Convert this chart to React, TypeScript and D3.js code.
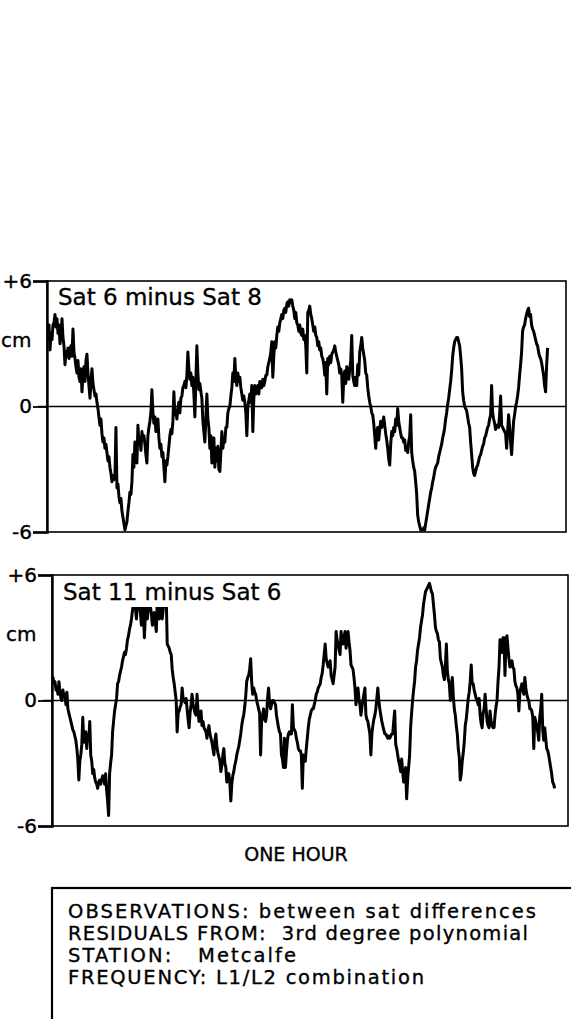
import React, { useEffect, useRef } from 'react';
import * as d3 from 'd3';

// one reading every 7.2 s, so 500 readings = one hour
const SAMPLE_SECONDS = 7.2;
const X_MAX_SECONDS = 3740;

const yTicks = [6, 0, -6];
const yTickLabels = ['+6', '0', '-6'];
const unitLabel = 'cm';
const unitLabelValue = 3.2;

// Sat 6 minus Sat 8, residuals in cm
const sat6minus8 = [
  4.0, 3.6, 3.9, 2.7, 3.5, 3.2, 3.9, 4.0, 4.4, 3.8,
  4.2, 3.5, 3.9, 3.0, 3.4, 4.2, 3.3, 2.9, 2.0, 2.6,
  2.4, 2.8, 2.3, 2.6, 2.9, 2.4, 3.7, 2.6, 2.3, 1.9,
  1.6, 2.2, 1.4, 1.2, 1.8, 0.7, 1.5, 1.9, 1.2, 2.2,
  2.5, 1.6, 1.0, 0.4, 1.2, 1.8, 1.1, 0.8, 0.5, 0.6,
  0.2, -0.1, -0.5, -0.9, -0.6, -1.3, -1.7, -1.5, -2.0, -1.8,
  -2.2, -2.6, -2.4, -2.9, -3.2, -3.6, -3.3, -3.5, -3.4, -1.0,
  -3.9, -3.7, -4.3, -4.6, -4.4, -5.0, -5.3, -5.6, -5.9, -5.7,
  -5.5, -5.0, -4.6, -4.1, -4.2, -3.6, -2.3, -2.9, -1.7, -2.2,
  -2.7, -0.9, -1.8, -1.5, -2.1, -1.2, -1.6, -1.4, -1.8, -2.3,
  -2.7, -1.4, -1.0, -0.7, -0.3, 0.8, -0.3, -0.8, -0.5, -1.2,
  -1.0, -0.6, -1.5, -2.0, -1.8, -2.4, -2.2, -2.9, -3.6, -2.6,
  -2.8, -2.4, -1.9, -1.4, -1.1, -1.3, -0.7, 0.7, -0.4, -0.2,
  -0.6, -0.1, 0.2, -0.3, 0.4, 0.5, 0.9, 1.0, 1.2, 0.9,
  1.5, 2.6, 1.8, 1.3, 1.6, 1.0, 1.4, 0.6, -0.5, 1.2,
  2.9, 1.6, 0.8, 1.1, 0.7, 0.4, -0.7, -1.2, -1.7, -0.5,
  0.6, -0.6, -1.0, -2.0, -1.4, -2.7, -2.3, -1.5, -2.9, -2.0,
  -2.6, -1.9, -3.0, -3.1, -2.2, -1.2, -2.0, -1.6, -1.7, -1.0,
  -1.0, -0.3, -0.1, 0.0, 0.5, 0.9, 1.6, 1.2, 2.3, 1.4,
  1.0, 1.6, 1.2, 1.4, 0.9, 0.6, 0.3, 0.5, 0.2, -0.3,
  -1.4, 0.0, 0.3, 0.6, 0.2, 1.0, -1.2, 0.4, 1.0, 0.6,
  0.8, 1.0, 0.6, 1.2, 0.9, 0.9, 1.3, 1.0, 1.2, 1.5,
  1.5, 1.9, 2.1, 2.3, 2.6, 3.1, 1.4, 2.4, 3.1, 2.8,
  3.4, 3.8, 3.6, 4.0, 4.2, 4.4, 4.2, 4.6, 4.7, 4.5,
  4.9, 5.0, 4.8, 5.1, 5.0, 5.1, 4.8, 4.6, 4.2, 4.5,
  4.0, 3.9, 3.6, 3.9, 3.5, 3.4, 3.7, 3.2, 3.4, 2.9,
  1.6, 4.5, 4.6, 4.8, 4.4, 4.2, 3.9, 3.6, 3.8, 3.4,
  3.3, 2.9, 3.1, 2.7, 2.8, 2.4, 2.3, 2.0, 1.5, 2.1,
  0.6, 2.3, 2.0, 2.4, 2.1, 2.5, 2.6, 2.7, 2.9, 2.6,
  2.4, 2.2, 2.0, 1.6, 1.8, 1.5, 0.2, 1.3, 1.7, 1.1,
  1.9, 1.6, 1.3, 1.8, 2.2, 3.4, 1.5, 1.2, 1.0, 1.4,
  1.0, 2.0, 1.5, 2.6, 2.9, 3.3, 2.8, 2.5, 2.2, 1.6,
  1.5, 0.9, 0.5, 0.2, 0.0, -0.3, -0.4, -0.8, -1.4, -2.0,
  -1.2, -1.0, -1.6, -1.1, -0.7, -1.0, -0.8, -0.5, -0.9, -1.3,
  -1.6, -2.0, -2.5, -2.8, -1.8, -1.2, -1.4, -1.0, -1.2, -0.6,
  -0.9, -0.1, -0.7, -1.0, -1.3, -1.5, -1.5, -1.7, -1.6, -2.1,
  -1.9, -2.2, -1.7, -1.4, -0.4, -2.2, -2.6, -2.9, -3.1, -3.6,
  -4.2, -5.2, -5.5, -5.7, -5.9, -5.9, -5.9, -5.8, -5.9, -5.6,
  -5.3, -5.0, -4.7, -4.4, -4.1, -3.9, -3.6, -3.4, -3.1, -2.9,
  -2.8, -2.7, -2.4, -2.2, -2.0, -1.8, -1.5, -1.3, -1.0, -0.6,
  -0.3, 0.1, 0.4, 0.8, 1.2, 1.7, 2.4, 2.8, 3.1, 3.2,
  3.3, 3.3, 3.1, 2.9, 2.4, 1.8, 0.7, 0.3, 0.0, -0.1,
  -0.2, -0.5, -0.8, -1.0, -1.7, -2.3, -2.9, -3.2, -3.3, -3.1,
  -2.9, -2.8, -2.6, -2.4, -2.3, -2.1, -1.9, -1.8, -1.5, -1.4,
  -1.2, -1.0, -0.9, -0.6, -0.4, 1.0, -0.3, -0.6, -0.8, -1.1,
  -0.9, -0.9, -1.0, -0.4, 0.5, -0.9, -1.0, -1.1, -1.2, -1.3,
  -2.0, -1.2, -0.4, -1.0, -1.7, -2.3, -1.5, -0.7, -0.4, 0.0,
  0.2, 0.5, 0.9, 1.5, 2.0, 2.6, 3.6, 3.8, 3.9, 4.2,
  4.4, 4.6, 4.7, 4.3, 4.4, 3.9, 3.7, 3.6, 3.4, 3.2,
  3.0, 2.9, 2.6, 2.4, 2.3, 2.1, 1.8, 1.5, 1.0, 0.7,
  1.9, 2.8,
];

// Sat 11 minus Sat 6, residuals in cm
const sat11minus6 = [
  1.0, 1.1, 0.8, 0.9, 0.5, 0.6, 0.3, 0.9, 0.4, 0.1,
  0.0, 0.5, 0.2, 0.3, -0.2, 0.4, -0.4, -0.6, -0.8, -1.0,
  -1.2, -1.4, -1.5, -1.7, -1.9, -2.3, -2.8, -3.8, -2.9, -2.6,
  -2.1, -0.8, -2.0, -1.6, -1.5, -2.3, -1.6, -1.9, -1.0, -2.6,
  -2.9, -3.5, -3.3, -3.7, -3.9, -4.0, -4.2, -3.9, -3.8, -4.0,
  -3.8, -3.6, -3.7, -4.0, -3.5, -4.3, -4.8, -5.5, -3.5, -3.0,
  -2.6, -1.5, -1.0, -0.5, -0.2, 0.1, 0.8, 0.9, 1.2, 1.4,
  1.6, 1.9, 2.1, 2.3, 2.2, 2.5, 2.9, 3.1, 3.4, 3.6,
  3.9, 4.3, 4.6, 4.8, 4.4, 3.9, 4.6, 4.8, 4.6, 4.2,
  3.6, 4.7, 4.3, 3.0, 4.1, 4.7, 3.9, 4.4, 4.8, 4.5,
  4.2, 3.6, 4.0, 4.2, 3.7, 3.3, 4.8, 4.2, 3.9, 4.5,
  4.8, 3.9, 4.4, 4.6, 4.8, 4.9, 2.7, 2.6, 2.5, 2.3,
  2.2, 1.5, 1.1, 0.8, 0.4, 0.0, -1.5, -0.6, -0.5, -0.3,
  -0.2, 0.6, 0.1, 0.0, -0.1, 0.1, -0.4, -0.9, -1.3, -0.6,
  -0.2, 0.3, -0.2, -0.4, -0.6, -0.7, 0.3, -0.5, -1.0, -0.6,
  -0.5, -1.2, -1.0, -1.3, -1.4, -1.5, -1.8, -1.4, -1.2, -1.6,
  -1.8, -2.0, -2.3, -2.6, -1.9, -1.6, -2.2, -2.5, -2.7, -2.9,
  -3.4, -3.1, -2.6, -2.3, -3.0, -3.2, -3.9, -3.5, -3.5, -3.9,
  -4.8, -4.0, -3.6, -3.4, -3.1, -2.9, -2.6, -2.4, -2.2, -1.9,
  -1.6, -1.2, -0.9, -0.7, -0.3, 0.2, 0.9, 1.1, 1.2, 1.5,
  2.0, 0.9, 0.3, 0.6, 0.4, 0.3, 0.0, -0.2, -0.4, -0.6,
  -2.6, -1.0, -0.7, -0.4, -0.9, -1.0, -0.7, 0.1, 0.6, -0.1,
  -0.4, -0.2, 0.0, 0.0, -0.1, -0.2, -0.7, -1.0, -1.3, -1.5,
  -1.6, -2.6, -2.8, -3.2, -1.8, -3.2, -2.5, -1.9, -1.6, -1.5,
  -1.6, -1.6, -0.2, -1.3, -1.4, -1.5, -1.8, -2.0, -2.3, -2.4,
  -2.4, -2.6, -4.2, -2.6, -2.8, -2.9, -2.3, -1.8, -1.3, -0.9,
  -0.7, -0.5, -0.4, -0.4, -0.2, 0.0, 0.3, 0.4, 0.6, 0.7,
  0.8, 1.1, 1.3, 1.7, 2.2, 2.7, 2.0, 1.8, 1.6, 1.7,
  1.9, 1.2, 1.0, 0.8, 1.2, 1.6, 3.3, 2.9, 2.7, 2.4,
  2.2, 3.3, 2.9, 2.7, 3.0, 3.3, 2.5, 2.9, 3.3, 2.8,
  2.4, 1.7, 1.6, 1.5, 1.1, 0.6, -0.2, 0.2, 0.6, 0.1,
  -0.2, -0.7, -0.3, 0.0, 0.3, 0.6, -0.7, -0.9, -1.0, -1.3,
  -1.6, -2.6, -1.6, -1.2, -0.9, -0.7, -0.4, 0.1, 0.6, 0.0,
  -0.4, -0.7, -1.0, -1.2, -1.4, -1.6, -1.6, -1.7, -1.8, -1.7,
  -1.8, -1.7, -1.6, -1.6, -1.0, -0.5, -2.1, -2.3, -2.6, -2.9,
  -3.1, -3.4, -2.8, -3.4, -3.9, -3.6, -3.2, -4.7, -3.8, -3.2,
  -2.6, -1.3, -0.6, 0.0, 0.5, 0.9, 1.6, 1.9, 2.4, 2.7,
  3.0, 3.5, 3.8, 4.1, 4.6, 4.9, 5.2, 5.3, 5.4, 5.5,
  5.6, 5.4, 5.2, 5.1, 4.6, 4.1, 3.5, 3.3, 3.2, 2.9,
  2.8, 2.0, 1.8, 1.6, 1.2, 1.0, 1.6, 2.7, 1.4, 1.0,
  0.8, 0.0, 0.7, 1.1, 0.2, -0.4, -0.7, -1.2, -1.6, -2.3,
  -2.7, -3.8, -3.5, -2.9, -2.5, -2.0, -1.2, -0.9, -0.4, 0.1,
  0.4, 0.9, 1.7, 0.8, 0.8, 0.5, 0.3, 0.1, 0.0, -0.2,
  0.1, -0.7, -1.1, -1.3, -0.6, -0.4, 0.3, -0.4, -1.0, -1.2,
  -1.3, -0.5, -1.0, -1.2, -1.3, -1.3, -0.7, -0.3, 0.0, 0.9,
  1.6, 2.9, 2.6, 2.3, 3.0, 3.0, 1.2, 2.8, 3.1, 2.5,
  2.0, 1.6, 1.8, 1.9, 1.6, 1.5, 0.9, 0.7, 0.6, 0.3,
  -0.5, 0.4, 0.6, 0.8, 0.5, 0.3, 1.1, 0.6, 0.3, 0.1,
  0.0, -0.4, -0.4, -0.5, -0.8, -2.3, -0.8, -1.0, -1.2, -1.5,
  -1.9, -0.8, -0.4, 0.3, -1.4, -1.9, -1.3, -1.8, -2.3, -2.4,
  -2.6, -2.9, -3.2, -3.5, -3.9, -4.0, -4.2,
];

const panelTitles = ['Sat 6 minus Sat 8', 'Sat 11 minus Sat 6'];
const xAxisLabel = 'ONE HOUR';
const notes = [
  'OBSERVATIONS: between sat differences',
  'RESIDUALS FROM:  3rd degree polynomial',
  'STATION:   Metcalfe',
  'FREQUENCY: L1/L2 combination',
];

const FONT = '"DejaVu Sans", Verdana, sans-serif';

export default function App() {
  const svgRef = useRef<SVGSVGElement>(null);

  useEffect(() => {
    if (!svgRef.current) return;
    const svg = d3.select(svgRef.current);
    svg.selectAll('*').remove();

    svg.append('rect').attr('width', 571).attr('height', 1019).attr('fill', '#fff');

    const panels = [
      { data: sat6minus8, title: panelTitles[0], top: 281, bottom: 532, left: 47, right: 566, titleW: 216, titleBase: 305 },
      { data: sat11minus6, title: panelTitles[1], top: 575, bottom: 826, left: 52, right: 568, titleW: 232, titleBase: 600 },
    ];

    panels.forEach((p, pi) => {
      const x = d3.scaleLinear().domain([0, X_MAX_SECONDS]).range([p.left, p.right]);
      const y = d3.scaleLinear().domain([-6, 6]).range([p.bottom, p.top]);
      const g = svg.append('g');

      g.append('clipPath')
        .attr('id', `clip-${pi}`)
        .append('rect')
        .attr('x', p.left)
        .attr('y', p.top)
        .attr('width', p.right - p.left)
        .attr('height', p.bottom - p.top);

      // zero line, starts a little left of the axis
      g.append('line')
        .attr('x1', p.left - 9)
        .attr('x2', p.right)
        .attr('y1', y(0))
        .attr('y2', y(0))
        .attr('stroke', '#000')
        .attr('stroke-width', 1.6);

      const line = d3.line<number>()
        .x((d, i) => x(i * SAMPLE_SECONDS))
        .y(d => y(d));

      g.append('path')
        .datum(p.data)
        .attr('clip-path', `url(#clip-${pi})`)
        .attr('fill', 'none')
        .attr('stroke', '#000')
        .attr('stroke-width', 3)
        .attr('stroke-linejoin', 'round')
        .attr('d', line);

      // title sits on a white patch that hides the trace underneath
      g.append('rect')
        .attr('x', p.left + 6)
        .attr('y', p.top + 1)
        .attr('width', p.titleW)
        .attr('height', p.titleBase + 6 - p.top)
        .attr('fill', '#fff');
      g.append('text')
        .attr('x', p.left + 11)
        .attr('y', p.titleBase)
        .attr('font-family', FONT)
        .attr('font-size', 23)
        .attr('stroke', '#000')
        .attr('stroke-width', 0.35)
        .text(p.title);

      // frame
      g.append('rect')
        .attr('x', p.left)
        .attr('y', p.top)
        .attr('width', p.right - p.left)
        .attr('height', p.bottom - p.top)
        .attr('fill', 'none')
        .attr('stroke', '#000')
        .attr('stroke-width', 1.6);

      // left axis
      const axis = g.append('g')
        .attr('transform', `translate(${p.left},0)`)
        .call(
          d3.axisLeft(y)
            .tickValues(yTicks)
            .tickSize(14)
            .tickPadding(1)
            .tickFormat((d, i) => yTickLabels[i])
        );
      axis.select('.domain').attr('stroke-width', 2.4);
      axis.selectAll('.tick line').attr('stroke-width', 1.8);
      axis.selectAll('.tick text')
        .attr('font-family', FONT)
        .attr('font-size', 20)
        .attr('fill', '#000')
        .attr('stroke', '#000')
        .attr('stroke-width', 0.4);

      g.append('text')
        .attr('x', p.left - 46)
        .attr('y', y(unitLabelValue))
        .attr('dy', '0.35em')
        .attr('font-family', FONT)
        .attr('font-size', 20)
        .attr('stroke', '#000')
        .attr('stroke-width', 0.35)
        .text(unitLabel);
    });

    svg.append('text')
      .attr('x', 296)
      .attr('y', 861)
      .attr('text-anchor', 'middle')
      .attr('font-family', FONT)
      .attr('font-size', 19)
      .attr('stroke', '#000')
      .attr('stroke-width', 0.35)
      .text(xAxisLabel);

    // notes box
    svg.append('rect')
      .attr('x', 52)
      .attr('y', 888)
      .attr('width', 600)
      .attr('height', 200)
      .attr('fill', 'none')
      .attr('stroke', '#000')
      .attr('stroke-width', 2.2);

    const noteWidths = [468, 460, 228, 356];
    svg.selectAll('.note')
      .data(notes)
      .enter()
      .append('text')
      .attr('class', 'note')
      .attr('x', 68)
      .attr('y', (d, i) => 918 + i * 22)
      .attr('font-family', FONT)
      .attr('font-size', 19.5)
      .attr('stroke', '#000')
      .attr('stroke-width', 0.35)
      .attr('textLength', (d, i) => noteWidths[i])
      .attr('lengthAdjust', 'spacing')
      .style('white-space', 'pre')
      .text(d => d);
  }, []);

  return (
    <svg
      ref={svgRef}
      width={571}
      height={1019}
      style={{ position: 'absolute', left: 0, top: 0, background: '#fff' }}
    />
  );
}
